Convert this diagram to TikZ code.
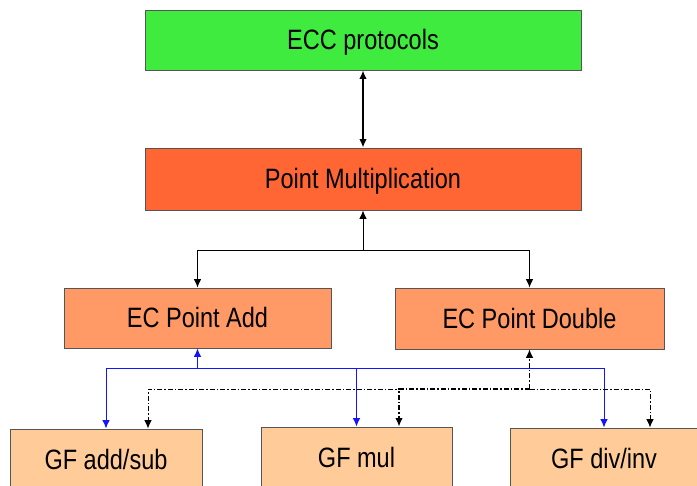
\documentclass[tikz,border=0pt]{standalone}
\usepackage{fontspec}
\usetikzlibrary{arrows.meta}
\newfontfamily\labfont{Liberation Sans}[FakeStretch=0.84]
\definecolor{cgreen}{RGB}{62,235,62}
\definecolor{corange}{RGB}{255,102,51}
\definecolor{clight}{RGB}{255,153,102}
\definecolor{cpale}{RGB}{255,204,153}
\definecolor{cborder}{RGB}{85,85,85}
\definecolor{cblue}{RGB}{20,20,255}
\begin{document}
\begin{tikzpicture}[x=1pt,y=-1pt,
  box/.style={draw=cborder,line width=0.9pt,rectangle,inner sep=0pt,
    text height=20pt,text depth=0pt,
    font=\labfont\fontsize{28}{30}\selectfont},
  conn/.style={line width=0.9pt,-{Latex[length=8.5pt,width=7.5pt]}},
  bluec/.style={conn,draw=cblue,-{Latex[length=8.5pt,width=7.5pt,color=cblue]},line width=1pt},
  dashc/.style={conn,dash pattern=on 5pt off 2pt on 1.5pt off 2pt}]
\useasboundingbox (0,0) rectangle (697,486);
\begin{scope}
\clip (0,0) rectangle (697,486);
\node[box,fill=cgreen,minimum width=436pt,minimum height=60pt] (ecc) at (363,40) {ECC protocols};
\node[box,fill=corange,minimum width=436pt,minimum height=62pt] (pm) at (363,179) {Point Multiplication};
\node[box,fill=clight,minimum width=267pt,minimum height=60pt] (add) at (197.5,318) {EC Point Add};
\node[box,fill=clight,minimum width=269pt,minimum height=61pt] (dbl) at (529.5,318.5) {EC Point Double};
\node[box,fill=cpale,minimum width=192pt,minimum height=62pt] (gfa) at (106,460) {GF add/sub};
\node[box,fill=cpale,minimum width=191pt,minimum height=62pt] (gfm) at (356.5,458) {GF mul};
\node[box,fill=cpale,minimum width=188pt,minimum height=62pt] (gfd) at (604,459) {GF div/inv};
\end{scope}
% top double arrow
\draw[line width=1.6pt,{Latex[length=8.5pt,width=7.5pt]}-{Latex[length=8.5pt,width=7.5pt]}] (ecc.south) -- (pm.north);
% PM to EC ops
\coordinate (j1) at (363,250);
\draw[conn] (j1) -- (pm.south);
\draw[conn] (j1) -| (add.north);
\draw[conn] (j1) -| (dbl.north);
% blue lines from EC Point Add
\coordinate (b0) at (197.5,369);
\draw[bluec] (b0) -- (add.south);
\draw[bluec] (b0) -| (gfa.north);
\draw[bluec] (b0) -| (gfm.north);
\draw[bluec] (b0) -| (gfd.north);
% dash-dot lines from EC Point Double
\coordinate (d0) at (529.5,389);
\draw[dashc] (d0) -- (dbl.south);
\draw[dashc] (d0) -| ([xshift=42pt]gfa.north);
\draw[dashc,line width=1.4pt] (d0) -| ([xshift=42.5pt]gfm.north);
\draw[dashc] (d0) -| ([xshift=46pt]gfd.north);
\end{tikzpicture}
\end{document}
